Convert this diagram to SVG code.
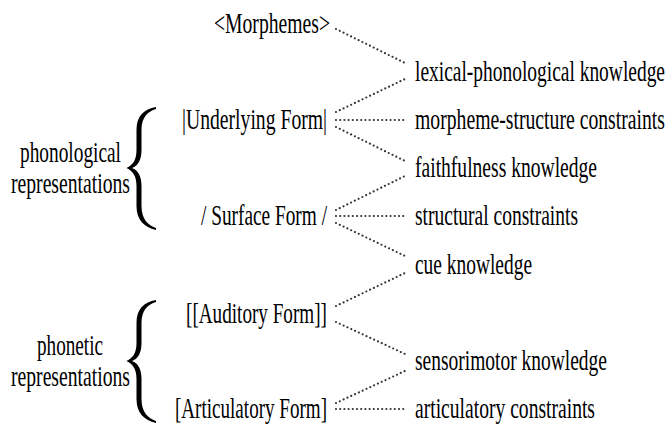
<svg xmlns="http://www.w3.org/2000/svg" width="668" height="425" viewBox="0 0 668 425">
<style>
text{font-family:"Liberation Serif","Times New Roman",serif;font-size:19px;fill:#000}
.c line{stroke:#333;stroke-width:2.2;stroke-dasharray:0 4.2;stroke-linecap:round}
.b{fill:#000}
</style>
<defs>
<path id="brace" d="M156 107C144 109 136.5 116 136.5 130L136.5 150C136.5 160 133 165 126.5 168C133 171 136.5 176 136.5 186L136.5 206C136.5 220 144 227 156 230L156 228C148 225.5 141.5 219 141.5 206L141.5 186C141.5 176 138 170 132 168C138 166 141.5 160 141.5 150L141.5 130C141.5 117 148 111.5 156 109Z"/>
</defs>
<rect width="668" height="425" fill="#fff"/>
<g class="c" id="connectors">
<line x1="336" y1="29" x2="405" y2="63"/>
<line x1="336" y1="112" x2="405" y2="79"/>
<line x1="336" y1="120" x2="405" y2="120"/>
<line x1="336" y1="127" x2="405" y2="161"/>
<line x1="336" y1="210" x2="405" y2="176"/>
<line x1="336" y1="216" x2="405" y2="216"/>
<line x1="336" y1="223" x2="405" y2="256"/>
<line x1="336" y1="306" x2="405" y2="273"/>
<line x1="336" y1="322" x2="405" y2="354"/>
<line x1="336" y1="403" x2="405" y2="371"/>
<line x1="336" y1="409" x2="405" y2="409"/>
</g>
<g id="phonological"><text transform="translate(20,162) scale(1,1.58)" textLength="101" lengthAdjust="spacingAndGlyphs">phonological</text><text transform="translate(11,193) scale(1,1.58)" textLength="119" lengthAdjust="spacingAndGlyphs">representations</text><use href="#brace" class="b"/></g>
<g id="phonetic"><text transform="translate(37,355) scale(1,1.58)" textLength="66" lengthAdjust="spacingAndGlyphs">phonetic</text><text transform="translate(11,386) scale(1,1.58)" textLength="119" lengthAdjust="spacingAndGlyphs">representations</text><use href="#brace" class="b" transform="translate(0,193)"/></g>
<g id="morphemes"><text transform="translate(214,33) scale(1,1.58)" textLength="116" lengthAdjust="spacingAndGlyphs">&lt;Morphemes&gt;</text></g>
<g id="underlying"><text transform="translate(182,129) scale(1,1.58)" textLength="145" lengthAdjust="spacingAndGlyphs">|Underlying Form|</text></g>
<g id="surface"><text transform="translate(201,225) scale(1,1.58)" textLength="126" lengthAdjust="spacingAndGlyphs">/ Surface Form /</text></g>
<g id="auditory"><text transform="translate(186,323) scale(1,1.58)" textLength="141" lengthAdjust="spacingAndGlyphs">[[Auditory Form]]</text></g>
<g id="articulatory"><text transform="translate(175,418) scale(1,1.58)" textLength="152" lengthAdjust="spacingAndGlyphs">[Articulatory Form]</text></g>
<g id="lexical"><text transform="translate(415,81) scale(1,1.58)" textLength="250" lengthAdjust="spacingAndGlyphs">lexical-phonological knowledge</text></g>
<g id="msc"><text transform="translate(415,129) scale(1,1.58)" textLength="250" lengthAdjust="spacingAndGlyphs">morpheme-structure constraints</text></g>
<g id="faith"><text transform="translate(415,177) scale(1,1.58)" textLength="182" lengthAdjust="spacingAndGlyphs">faithfulness knowledge</text></g>
<g id="structural"><text transform="translate(415,225) scale(1,1.58)" textLength="163" lengthAdjust="spacingAndGlyphs">structural constraints</text></g>
<g id="cue"><text transform="translate(415,274) scale(1,1.58)" textLength="117" lengthAdjust="spacingAndGlyphs">cue knowledge</text></g>
<g id="sensorimotor"><text transform="translate(415,370) scale(1,1.58)" textLength="192" lengthAdjust="spacingAndGlyphs">sensorimotor knowledge</text></g>
<g id="artc"><text transform="translate(415,418) scale(1,1.58)" textLength="180" lengthAdjust="spacingAndGlyphs">articulatory constraints</text></g>
</svg>
